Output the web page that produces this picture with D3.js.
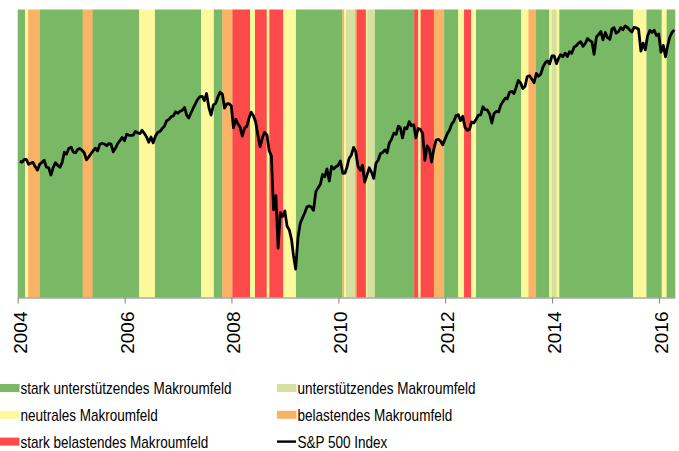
<!DOCTYPE html>
<html>
<head>
<meta charset="utf-8">
<script src="https://cdn.jsdelivr.net/npm/d3@7"></script>
<style>
  body { margin: 0; background: #fff; }
  svg { display: block; font-family: "Liberation Sans", Arial, sans-serif; }
</style>
</head>
<body>
<div id="chart"></div>
<script>
// regime bands: start date + regime key (each band ends where the next one starts)
const bandStarts = [
  '2004-01-01', '2004-02-20', '2004-03-12', '2004-06-01', '2005-03-20', '2005-05-27',
  '2006-04-10', '2006-07-27', '2007-06-07', '2007-09-03', '2007-10-31', '2008-01-08',
  '2008-05-07', '2008-06-10', '2008-08-29', '2008-09-16', '2008-12-20', '2009-03-17',
  '2010-01-28', '2010-02-09', '2010-02-22', '2010-04-24', '2010-05-06', '2010-07-08',
  '2010-07-17', '2010-09-08', '2011-06-03', '2011-07-01', '2011-07-17', '2011-10-16',
  '2011-12-25', '2012-03-30', '2012-05-09', '2012-06-26', '2012-07-30', '2013-06-03',
  '2013-07-23', '2013-09-13', '2013-12-13', '2013-12-29', '2014-02-01', '2014-02-19',
  '2015-07-09', '2015-10-08', '2016-01-20', '2016-02-23'
];
const bandTypes = [
  'sg', 'ne', 'be', 'sg', 'be', 'sg',
  'ne', 'sg', 'ne', 'sg', 'be', 'sb',
  'ne', 'sb', 'ne', 'sb', 'ne', 'sg',
  'be', 'ne', 'lg', 'be', 'sb', 'ne',
  'lg', 'sg', 'sb', 'ne', 'sb', 'be',
  'sg', 'ne', 'sb', 'ne', 'sg', 'ne',
  'be', 'sg', 'ne', 'lg', 'ne', 'sg',
  'ne', 'sg', 'ne', 'sg'
];
const chartEnd = '2016-04-20';

// S&P 500, one value mid-month and one at month end, from Jan 2004
const spxMid = [
  1135, 1146, 1120, 1130, 1090, 1130, 1105, 1065, 1128, 1104, 1184, 1205,
  1185, 1200, 1195, 1143, 1175, 1206, 1228, 1230, 1232, 1186, 1234, 1268,
  1287, 1280, 1303, 1290, 1292, 1240, 1236, 1297, 1321, 1369, 1396, 1427,
  1431, 1456, 1387, 1452, 1512, 1533, 1553, 1406, 1484, 1562, 1452, 1482,
  1325, 1349, 1276, 1334, 1425, 1360, 1215, 1298, 1192, 907, 760, 880,
  842, 790, 690, 852, 893, 924, 905, 1004, 1068, 1096, 1109, 1107,
  1137, 1075, 1150, 1211, 1110, 1115, 1064, 1080, 1125, 1176, 1197, 1235,
  1293, 1336, 1265, 1320, 1338, 1266, 1316, 1140, 1200, 1200, 1257, 1225,
  1289, 1350, 1402, 1370, 1330, 1315, 1356, 1405, 1461, 1440, 1355, 1430,
  1472, 1520, 1560, 1553, 1650, 1590, 1680, 1661, 1704, 1698, 1790, 1781,
  1848, 1830, 1841, 1842, 1870, 1937, 1973, 1955, 1985, 1862, 2040, 1990,
  2011, 2096, 2053, 2106, 2123, 2084, 2108, 2090, 1960, 2023, 2060, 2030,
  1880, 1840, 2015, 2085
];
const spxEnd = [
  1131, 1145, 1126, 1107, 1121, 1141, 1102, 1104, 1115, 1130, 1174, 1212,
  1181, 1204, 1181, 1157, 1192, 1191, 1234, 1220, 1229, 1207, 1249, 1248,
  1280, 1281, 1295, 1311, 1270, 1270, 1277, 1304, 1336, 1378, 1401, 1418,
  1438, 1407, 1421, 1482, 1531, 1503, 1455, 1474, 1527, 1549, 1481, 1468,
  1379, 1331, 1323, 1386, 1400, 1280, 1267, 1283, 1166, 969, 896, 903,
  826, 735, 798, 873, 919, 919, 987, 1021, 1057, 1036, 1096, 1115,
  1074, 1104, 1169, 1187, 1089, 1031, 1102, 1049, 1141, 1183, 1181, 1258,
  1286, 1327, 1326, 1364, 1345, 1321, 1292, 1219, 1131, 1253, 1247, 1258,
  1312, 1366, 1408, 1398, 1310, 1362, 1379, 1407, 1441, 1412, 1416, 1426,
  1498, 1515, 1569, 1598, 1631, 1606, 1686, 1633, 1682, 1757, 1806, 1848,
  1783, 1859, 1872, 1884, 1924, 1960, 1931, 2003, 1972, 2018, 2068, 2059,
  1995, 2105, 2068, 2086, 2107, 2063, 2104, 1890, 1900, 2079, 2080, 2044,
  1940, 1932, 2060
];

const tickYears = [2004, 2006, 2008, 2010, 2012, 2014, 2016];

const legendKeys = ['sg', 'lg', 'ne', 'be', 'sb', 'spx'];
const legendLabels = [
  'stark unterstützendes Makroumfeld',
  'unterstützendes Makroumfeld',
  'neutrales Makroumfeld',
  'belastendes Makroumfeld',
  'stark belastendes Makroumfeld',
  'S&P 500 Index'
];

const colors = {
  sg: '#79b966',
  lg: '#d5e1a1',
  ne: '#fdf89c',
  be: '#fab365',
  sb: '#fd4b4b',
  spx: '#000'
};

const width = 679;
const height = 451;
const plotLeft = 17.7;
const plotRight = 675;
const plotTop = 9.5;
const plotBottom = 297.5;

const parse = d3.timeParse('%Y-%m-%d');

const svg = d3.select('#chart')
              .append('svg')
              .attr('width', width)
              .attr('height', height);

const x = d3.scaleTime()
            .domain([parse('2004-01-01'), parse(chartEnd)])
            .range([plotLeft, plotRight]);
const y = d3.scaleLog()
            .domain([605, 2290])
            .range([plotBottom, plotTop]);

// background bands
const bands = bandStarts.map((s, i) => ({
  start: parse(s),
  end: parse(i < bandStarts.length - 1 ? bandStarts[i + 1] : chartEnd),
  type: bandTypes[i]
}));
svg.append('g')
   .selectAll('rect')
   .data(bands)
   .enter()
   .append('rect')
   .attr('x', (d) => x(d.start))
   .attr('width', (d) => x(d.end) - x(d.start) + 0.3)
   .attr('y', plotTop)
   .attr('height', plotBottom - plotTop)
   .attr('fill', (d) => colors[d.type]);

// index line
const points = [];
spxMid.forEach((v, i) => {
  points.push({ date: new Date(2004, i, 15), value: v });
  if (i < spxEnd.length) {
    points.push({ date: new Date(2004, i + 1, 0), value: spxEnd[i] });
  }
});
const valueline = d3.line()
                    .x((d) => x(d.date))
                    .y((d) => y(d.value));
svg.append('path')
   .datum(points)
   .attr('d', valueline)
   .attr('fill', 'none')
   .attr('stroke', colors.spx)
   .attr('stroke-width', 2.8)
   .attr('stroke-linejoin', 'round');

// x axis
const xAxis = d3.axisBottom(x)
                .tickValues(tickYears.map((yr) => new Date(yr, 0, 1)))
                .tickFormat(d3.timeFormat('%Y'))
                .tickSize(6)
                .tickSizeOuter(0);
const axisG = svg.append('g')
                 .attr('transform', `translate(0, ${plotBottom})`)
                 .call(xAxis);
axisG.select('.domain').attr('stroke', '#808080');
axisG.selectAll('.tick line').attr('stroke', '#808080');
axisG.selectAll('.tick text')
     .attr('transform', 'translate(0, 14) rotate(-90)')
     .attr('x', 0)
     .attr('y', 0)
     .attr('dy', '0.45em')
     .attr('text-anchor', 'end')
     .attr('fill', '#000')
     .style('font-size', '19px')
     .style('font-family', '"Liberation Sans", Arial, sans-serif');

// legend
const legend = svg.append('g');
const items = legend.selectAll('g')
                    .data(legendKeys)
                    .enter()
                    .append('g')
                    .attr('transform', (d, i) => `translate(${i % 2 === 0 ? 0 : 277}, ${394 + Math.floor(i / 2) * 26.8})`);
items.filter((d) => d !== 'spx')
     .append('rect')
     .attr('x', 0)
     .attr('y', -10)
     .attr('width', 19.5)
     .attr('height', 8)
     .attr('fill', (d) => colors[d]);
items.filter((d) => d === 'spx')
     .append('line')
     .attr('x1', 0)
     .attr('x2', 19)
     .attr('y1', -6)
     .attr('y2', -6)
     .attr('stroke', '#000')
     .attr('stroke-width', 2.4);
items.append('text')
     .attr('transform', 'translate(20.5, 0) scale(0.845, 1)')
     .style('font-size', '16px')
     .attr('fill', '#000')
     .text((d, i) => legendLabels[i]);
</script>
</body>
</html>
